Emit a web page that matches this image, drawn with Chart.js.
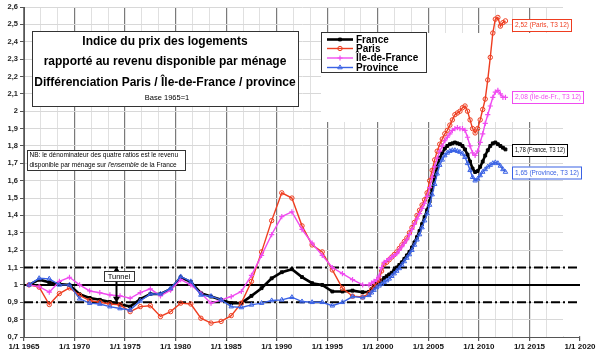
<!DOCTYPE html>
<html><head><meta charset="utf-8">
<script src="https://cdn.jsdelivr.net/npm/chart.js@4/dist/chart.umd.min.js"></script>
<style>html,body{margin:0;padding:0;background:#fff}canvas{display:block}</style>
</head><body>
<canvas id="c" width="600" height="352"></canvas>
<script>
const FONT = '"Liberation Sans", Arial, Helvetica, sans-serif';

// ---- categories ----
const annualYears = [1965,1966,1967,1968,1969,1970,1971,1972,1973,1974,1975,1976,1977,1978,1979,1980,1981,1982,1983,1984,1985,1986,1987,1988,1989,1990,1991,1992,1993,1994,1995,1996,1997,1998];
const quarterlyYears = [1999,2000,2001,2002,2003,2004,2005,2006,2007,2008,2009,2010,2011,2012];
const lastQuarter = 3; // T3 2012

// ---- series values (annual 1965-1998, then quarterly 1999T1-2012T3) ----
const france = [
 1.00,1.03,1.015,1.005,1.00,0.946,0.925,0.914,0.902,0.889,0.875,0.918,0.948,0.948,0.975,1.044,1.017,0.952,0.933,0.914,0.895,0.895,0.937,0.981,1.038,1.073,1.09,1.045,1.01,1.00,0.962,0.962,0.967,0.958,
 0.96,0.975,0.99,1.005, 1.01,1.025,1.04,1.05, 1.06,1.07,1.085,1.10, 1.115,1.13,1.15,1.17, 1.19,1.215,1.245,1.275,
 1.31,1.35,1.39,1.43, 1.48,1.55,1.62,1.68, 1.73,1.76,1.785,1.80, 1.81,1.815,1.82,1.815, 1.81,1.80,1.78,1.75,
 1.71,1.67,1.65,1.655, 1.68,1.71,1.745,1.775, 1.80,1.815,1.82,1.81, 1.80,1.79,1.78];
const paris = [
 1.00,0.987,0.887,0.95,0.983,0.94,0.91,0.90,0.89,0.885,0.846,0.875,0.88,0.818,0.846,0.895,0.89,0.808,0.78,0.79,0.823,0.895,1.02,1.19,1.37,1.53,1.50,1.34,1.23,1.19,1.086,0.98,0.935,0.93,
 0.95,0.97,0.99,1.01, 1.03,1.08,1.12,1.13, 1.145,1.16,1.175,1.19, 1.21,1.23,1.25,1.27, 1.30,1.33,1.36,1.40,
 1.43,1.46,1.49,1.53, 1.60,1.66,1.72,1.77, 1.81,1.84,1.87,1.89, 1.92,1.95,1.98,1.99, 2.00,2.02,2.03,2.00,
 1.95,1.90,1.875,1.90, 1.95,2.01,2.07,2.18, 2.31,2.45,2.53,2.54, 2.49,2.51,2.52];
const ileDeFrance = [
 1.00,0.99,0.958,1.02,1.044,1.00,0.965,0.955,0.942,0.937,0.923,0.955,0.977,0.937,0.97,1.03,1.00,0.952,0.895,0.914,0.933,0.962,1.055,1.17,1.29,1.393,1.42,1.32,1.24,1.17,1.10,1.065,1.03,1.00,
 1.00,1.01,1.02,1.03, 1.05,1.10,1.13,1.14, 1.15,1.16,1.17,1.18, 1.20,1.22,1.24,1.26, 1.29,1.32,1.35,1.38,
 1.41,1.44,1.47,1.51, 1.56,1.62,1.68,1.73, 1.77,1.80,1.83,1.85, 1.87,1.89,1.90,1.905, 1.90,1.90,1.89,1.85,
 1.80,1.76,1.745,1.77, 1.82,1.87,1.93,1.98, 2.03,2.08,2.11,2.12, 2.10,2.08,2.08];
const province = [
 1.00,1.038,1.035,1.00,1.00,0.92,0.895,0.89,0.875,0.864,0.856,0.908,0.948,0.948,0.98,1.048,1.02,0.942,0.935,0.914,0.875,0.87,0.885,0.895,0.91,0.914,0.929,0.904,0.90,0.90,0.88,0.90,0.933,0.927,
 0.94,0.955,0.97,0.985, 0.995,1.005,1.015,1.025, 1.035,1.05,1.065,1.08, 1.095,1.115,1.135,1.155, 1.175,1.20,1.23,1.26,
 1.29,1.33,1.37,1.41, 1.46,1.52,1.58,1.64, 1.69,1.72,1.745,1.76, 1.77,1.775,1.775,1.77, 1.765,1.755,1.735,1.70,
 1.66,1.62,1.60,1.61, 1.63,1.65,1.665,1.68, 1.69,1.70,1.705,1.70, 1.685,1.665,1.65];

// ---- reference lines / axis ticks ----
const referenceLevels = [0.9, 1.0, 1.1];
const referenceSpan = [1965, 2020];
const tunnelAtYear = 1974.15;
const yTickValues = [0.7,0.8,0.9,1.0,1.1,1.2,1.3,1.4,1.5,1.6,1.7,1.8,1.9,2.0,2.1,2.2,2.3,2.4,2.5,2.6];
const xMajorYears = [1965,1970,1975,1980,1985,1990,1995,2000,2005,2010,2015,2020];
const lastLabel = 'T3 12';

// period positions (mid-year for annual, mid-quarter for quarterly)
const periodX = [];
annualYears.forEach(y => periodX.push(y + 0.5));
quarterlyYears.forEach(y => { for (let q = 1; q <= 4; q++) { if (y === 2012 && q > lastQuarter) break; periodX.push(y + (q - 0.5) / 4); } });

const series = [
  {label:'France', tag:'France', values:france, color:'#000000', width:2.6, style:'rect', radius:2, fill:'#000000', bw:1, order:4},
  {label:'Paris', tag:'Paris', values:paris, color:'#ee3d20', width:1.4, style:'circle', radius:2.2, fill:'rgba(255,255,255,0)', bw:1, order:3},
  {label:'Île-de-France', tag:'Île-de-Fr.', values:ileDeFrance, color:'#f04cf0', width:1.4, style:'cross', radius:2.6, fill:'#f04cf0', bw:1.2, order:2},
  {label:'Province', tag:'Province', values:province, color:'#3a62e4', width:1.4, style:'triangle', radius:2.6, fill:'rgba(255,255,255,0)', bw:1, order:1}
];

const datasets = series.map(s => ({
  label: s.label, seriesTag: s.tag,
  data: s.values.map((v, i) => ({x: periodX[i], y: v})),
  borderColor: s.color, backgroundColor: s.fill, borderWidth: s.width,
  pointStyle: s.style, pointRadius: s.radius, pointBorderWidth: s.bw,
  pointBackgroundColor: s.fill, pointBorderColor: s.color, tension: 0, order: s.order
}));
referenceLevels.forEach(lvl => datasets.push({
  label: 'ref' + lvl, data: referenceSpan.map(x => ({x, y: lvl})),
  borderColor: '#000', borderWidth: 2, borderDash: lvl === 1 ? [] : [9,3,2,3],
  pointRadius: 0, order: 10
}));

const xTicks = []; for (let i = 0; i <= 33; i++) xTicks.push(1965 + i * 5 / 3);
const isMajor = v => xMajorYears.some(m => Math.abs(m - v) < 1e-6);

function boxRect(ctx, x, y, w, h, stroke, lw) {
  ctx.fillStyle = '#fff'; ctx.fillRect(x, y, w, h);
  ctx.strokeStyle = stroke; ctx.lineWidth = lw || 1; ctx.strokeRect(x + 0.5, y + 0.5, w, h);
}

const overlay = {
  id: 'overlay',
  beforeDatasetsDraw(chart) {
    const {ctx, chartArea: a, scales: {x, y}} = chart;
    ctx.save(); ctx.fillStyle = '#fff';
    const xr = Math.round(x.getPixelForValue(2018.3));
    ctx.fillRect(xr, a.top - 2, 40, a.bottom - a.top + 1);
    const x1 = 321, yT = 33, yB = 122;
    ctx.fillRect(x1, yT, 300, yB - yT);
    ctx.restore();
  },
  afterDatasetsDraw(chart) {
    const {ctx, scales: {x, y}} = chart;
    ctx.save();
    // Tunnel arrow
    const xa = Math.round(x.getPixelForValue(tunnelAtYear)) + 0.5;
    const yt = y.getPixelForValue(referenceLevels[2]), yb = y.getPixelForValue(referenceLevels[0]);
    ctx.strokeStyle = '#000'; ctx.fillStyle = '#000'; ctx.lineWidth = 2;
    ctx.beginPath(); ctx.moveTo(xa, yt + 4); ctx.lineTo(xa, yb - 4); ctx.stroke();
    ctx.beginPath(); ctx.moveTo(xa, yt - 1); ctx.lineTo(xa - 3.5, yt + 5); ctx.lineTo(xa + 3.5, yt + 5); ctx.closePath(); ctx.fill();
    ctx.beginPath(); ctx.moveTo(xa, yb + 0.5); ctx.lineTo(xa - 3.5, yb - 5.5); ctx.lineTo(xa + 3.5, yb - 5.5); ctx.closePath(); ctx.fill();
    boxRect(ctx, xa - 12.5, 271, 30, 10, '#333', 1);
    ctx.fillStyle = '#000'; ctx.font = '7.5px ' + FONT; ctx.textAlign = 'center'; ctx.textBaseline = 'middle';
    ctx.fillText('Tunnel', xa + 2.5, 276.5);
    // value labels
    const labs = [
      {s:1, y:19, w:59}, {s:2, y:91, w:71}, {s:0, y:144, w:55}, {s:3, y:166.5, w:69}
    ];
    labs.forEach(l => {
      const s = series[l.s];
      const txt = s.values[s.values.length - 1].toFixed(2).replace('.', ',') + ' (' + s.tag + ', ' + lastLabel + ')';
      boxRect(ctx, 512, l.y, l.w, 12, s.color, 1);
      ctx.font = '7px ' + FONT; ctx.textAlign = 'left'; ctx.textBaseline = 'middle'; ctx.fillStyle = s.color;
      const mw = ctx.measureText(txt).width, target = l.w - 5;
      const sx = Math.min(1, target / mw);
      ctx.save(); ctx.translate(515, l.y + 6.5); ctx.scale(sx, 1); ctx.fillText(txt, 0, 0); ctx.restore();
    });
    ctx.restore();
  },
  afterDraw(chart) {
    const {ctx} = chart;
    ctx.save();
    // title box
    boxRect(ctx, 32, 31, 266, 75, '#333', 1);
    ctx.fillStyle = '#000'; ctx.textAlign = 'center'; ctx.textBaseline = 'middle';
    ctx.font = 'bold 12px ' + FONT;
    ctx.fillText('Indice du prix des logements', 165, 42);
    ctx.fillText('rapporté au revenu disponible par ménage', 165, 62);
    ctx.fillText('Différenciation Paris / Île-de-France / province', 165, 83);
    ctx.font = '7.5px ' + FONT;
    ctx.fillText('Base 1965=1', 167, 98);
    // NB box
    boxRect(ctx, 27, 150, 158, 20, '#333', 1);
    ctx.fillStyle = '#000'; ctx.textAlign = 'left'; ctx.textBaseline = 'middle';
    ctx.font = '6.5px ' + FONT;
    ctx.fillText('NB: le dénominateur des quatre ratios est le revenu', 29.5, 155.5);
    let xx = 29.5;
    const seg = [['disponible par ménage sur ', ''], ["l'ensemble", 'italic '], [' de la France', '']];
    seg.forEach(([t, st]) => { ctx.font = st + '6.5px ' + FONT; ctx.fillText(t, xx, 165); xx += ctx.measureText(t).width; });
    // legend
    boxRect(ctx, 321, 32, 105, 40, '#333', 1);
    const rows = [39.5, 48.5, 58, 67.5];
    chart.data.datasets.filter(d => d.seriesTag).forEach((d, i) => {
      const yy = rows[i];
      ctx.strokeStyle = d.borderColor; ctx.lineWidth = d.borderWidth; ctx.setLineDash([]);
      ctx.beginPath(); ctx.moveTo(327, yy); ctx.lineTo(353, yy); ctx.stroke();
      ctx.fillStyle = d.pointBackgroundColor; ctx.strokeStyle = d.pointBorderColor; ctx.lineWidth = d.pointBorderWidth;
      Chart.helpers.drawPoint(ctx, {pointStyle: d.pointStyle, radius: d.pointRadius, borderWidth: d.pointBorderWidth, rotation: 0}, 340, yy);
      ctx.fillStyle = '#000'; ctx.font = 'bold 10px ' + FONT; ctx.textAlign = 'left'; ctx.textBaseline = 'middle';
      ctx.fillText(d.label, 356, yy + 0.5);
    });
    ctx.restore();
  }
};

new Chart(document.getElementById('c'), {
  type: 'line',
  data: {datasets},
  options: {
    responsive: false, animation: false, devicePixelRatio: 1,
    layout: {padding: {top: 7, right: 20, left: 0, bottom: 0}},
    plugins: {legend: {display: false}, tooltip: {enabled: false}},
    scales: {
      x: {
        type: 'linear', min: referenceSpan[0], max: referenceSpan[1],
        afterBuildTicks: s => { s.ticks = xTicks.map(v => ({value: v})); },
        afterFit: s => { s.height = 15; },
        grid: {
          color: c => (c.tick && isMajor(c.tick.value)) ? '#7a7a7a' : '#e0e0e0',
          lineWidth: c => (c.tick && isMajor(c.tick.value)) ? 1.2 : 1,
          tickLength: 4,
          tickColor: c => (c.tick && isMajor(c.tick.value)) ? '#555' : 'rgba(0,0,0,0)'
        },
        border: {color: '#555', width: 1},
        ticks: {autoSkip: false, maxRotation: 0, padding: 1, color: '#111',
          font: {family: FONT, size: 8, weight: 'bold'},
          callback: v => isMajor(v) ? '1/1 ' + Math.round(v) : ''}
      },
      y: {
        min: yTickValues[0], max: yTickValues[yTickValues.length - 1],
        afterBuildTicks: s => { s.ticks = yTickValues.map(v => ({value: v})); },
        afterFit: s => { s.width = 24; },
        grid: {color: '#d8d8d8', tickLength: 4, tickColor: '#555'},
        border: {color: '#555', width: 1},
        ticks: {padding: 2, color: '#222', font: {family: FONT, size: 7.5, weight: 'bold'},
          callback: v => (Math.round(v * 10) / 10).toString().replace('.', ',')}
      }
    }
  },
  plugins: [overlay]
});
</script>
</body></html>
